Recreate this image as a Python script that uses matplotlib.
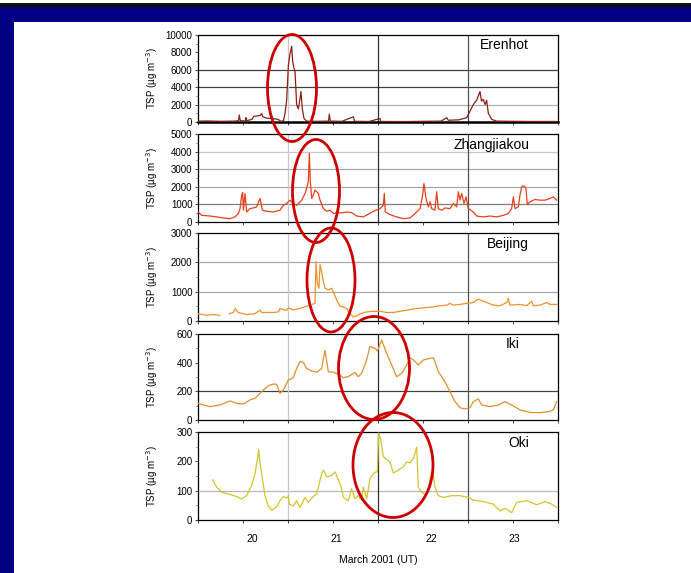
import numpy as np
import matplotlib
matplotlib.use("Agg")
import matplotlib.pyplot as plt
from matplotlib.patches import Ellipse, Rectangle
from matplotlib.ticker import MultipleLocator

plt.rcParams["font.family"] = ["Liberation Sans", "DejaVu Sans"]

NAVY, RING = "#000080", "#cc0000"

# time = day of March 2001 (UT), TSP in ug m-3
erenhot_t = [19.50, 19.60, 19.75, 19.90, 19.95, 19.959, 19.97, 20.03, 20.033, 20.04, 20.10, 20.12,
             20.16, 20.19, 20.207, 20.22, 20.26, 20.33, 20.39, 20.42, 20.45, 20.467, 20.485, 20.504,
             20.522, 20.541, 20.55, 20.559, 20.578, 20.596, 20.615, 20.635, 20.644, 20.659, 20.678,
             20.707, 20.80, 20.95, 20.959, 20.97, 21.10, 21.226, 21.24, 21.40, 21.522, 21.53, 21.80,
             22.00, 22.20, 22.263, 22.28, 22.40, 22.485, 22.52, 22.559, 22.596, 22.633, 22.65,
             22.670, 22.69, 22.707, 22.726, 22.763, 22.819, 23.00, 23.20, 23.50]
erenhot_v = [100, 120, 80, 100, 150, 800, 150, 120, 500, 150, 300, 650,
             700, 750, 980, 600, 450, 400, 300, 80, 150, 1000, 2500, 6500,
             7800, 8700, 7200, 6500, 5800, 2000, 1500, 2800, 3500, 1500, 400,
             100, 80, 100, 900, 100, 80, 600, 80, 60, 400, 60, 50,
             80, 100, 500, 200, 250, 500, 1200, 2000, 2500, 3500, 2400,
             2600, 2000, 2500, 1000, 300, 100, 80, 60, 60]

zhang_t = [19.500, 19.541, 19.633, 19.707, 19.781, 19.856, 19.911, 19.948, 19.967, 19.985, 19.996,
           20.004, 20.022, 20.041, 20.078, 20.115, 20.152, 20.189, 20.215, 20.263, 20.337, 20.411,
           20.448, 20.485, 20.522, 20.559, 20.596, 20.652, 20.689, 20.707, 20.726, 20.737, 20.748,
           20.763, 20.781, 20.800, 20.819, 20.837, 20.856, 20.893, 20.930, 20.967, 21.004, 21.041,
           21.096, 21.152, 21.207, 21.263, 21.337, 21.411, 21.467, 21.522, 21.559, 21.570, 21.581,
           21.633, 21.707, 21.781, 21.856, 21.911, 21.967, 21.996, 22.011, 22.033, 22.059, 22.078,
           22.096, 22.133, 22.152, 22.170, 22.207, 22.244, 22.300, 22.337, 22.374, 22.393, 22.411,
           22.430, 22.456, 22.478, 22.504, 22.559, 22.596, 22.670, 22.744, 22.819, 22.893, 22.948,
           22.985, 23.004, 23.022, 23.059, 23.078, 23.096, 23.122, 23.144, 23.159, 23.189, 23.244,
           23.300, 23.356, 23.411, 23.448, 23.485]
zhang_v = [570, 380, 340, 290, 230, 190, 290, 480, 760, 1530, 1680,
           670, 1620, 570, 760, 800, 860, 1340, 670, 610, 570, 670,
           950, 1050, 1240, 1050, 950, 1240, 1620, 1910, 2290, 3910, 2290,
           1340, 1530, 1810, 1720, 1620, 1240, 760, 610, 670, 480, 530,
           515, 570, 530, 340, 290, 500, 650, 760, 950, 1620, 570,
           420, 290, 190, 230, 480, 760, 1530, 2190, 1340, 860, 1145,
           760, 670, 1720, 760, 670, 800, 760, 1050, 860, 1720, 1240,
           1620, 1050, 1430, 760, 570, 340, 290, 340, 290, 380, 480,
           760, 1430, 760, 860, 1530, 2000, 2060, 1910, 990, 1145, 1280,
           1240, 1240, 1340, 1430, 1240]

beijing_t = [19.504, 19.596, 19.670, 19.744, 19.76, 19.848, 19.893, 19.911, 19.948, 20.041, 20.133,
             20.189, 20.207, 20.337, 20.393, 20.411, 20.485, 20.504, 20.559, 20.633, 20.707, 20.763,
             20.800, 20.811, 20.826, 20.844, 20.856, 20.874, 20.893, 20.911, 20.948, 20.985, 21.004,
             21.041, 21.078, 21.115, 21.152, 21.189, 21.226, 21.263, 21.300, 21.374, 21.448, 21.522,
             21.596, 21.670, 21.744, 21.819, 21.930, 22.041, 22.115, 22.189, 22.263, 22.300, 22.337,
             22.411, 22.485, 22.559, 22.615, 22.633, 22.707, 22.781, 22.856, 22.930, 22.948, 22.967,
             23.078, 23.152, 23.207, 23.226, 23.300, 23.374, 23.411, 23.496]
beijing_v = [250, 195, 220, 195, np.nan, 250, 290, 425, 290, 220, 250,
             370, 290, 290, 310, 425, 360, 450, 380, 430, 505, 565,
             600, 2030, 1290, 1115, 1920, 1690, 1345, 1115, 1060, 1115, 1000,
             710, 505, 480, 425, 250, 140, 170, 250, 310, 330, 330,
             290, 290, 330, 370, 425, 460, 480, 520, 540, 600, 540,
             565, 600, 630, 750, 720, 630, 540, 520, 630, 770, 540,
             565, 520, 680, 520, 540, 630, 565, 565]

iki_t = [19.504, 19.559, 19.633, 19.744, 19.856, 19.930, 20.004, 20.078, 20.133, 20.226, 20.281,
         20.337, 20.374, 20.411, 20.448, 20.504, 20.559, 20.596, 20.633, 20.670, 20.707, 20.763,
         20.819, 20.874, 20.911, 20.948, 21.004, 21.078, 21.115, 21.170, 21.244, 21.281, 21.319,
         21.374, 21.411, 21.467, 21.493, 21.541, 21.596, 21.652, 21.707, 21.763, 21.819, 21.856,
         21.893, 21.948, 22.004, 22.078, 22.115, 22.133, 22.170, 22.244, 22.300, 22.356, 22.411,
         22.467, 22.522, 22.559, 22.615, 22.652, 22.744, 22.837, 22.911, 22.985, 23.078, 23.189,
         23.300, 23.393, 23.448, 23.485]
iki_v = [116, 105, 93, 105, 133, 116, 112, 140, 151, 209, 240,
         251, 249, 186, 209, 279, 295, 360, 407, 402, 360, 342,
         333, 360, 488, 337, 333, 314, 295, 302, 333, 302, 326,
         419, 512, 500, 481, 558, 465, 384, 302, 326, 384, 435,
         419, 384, 419, 430, 435, 407, 337, 267, 198, 128, 86,
         77, 86, 128, 147, 105, 93, 105, 128, 105, 70, 53,
         51, 58, 70, 128]

oki_t = [19.663, 19.707, 19.763, 19.856, 19.930, 19.985, 20.041, 20.096, 20.133, 20.159, 20.174,
         20.189, 20.219, 20.244, 20.281, 20.319, 20.374, 20.411, 20.448, 20.485, 20.504, 20.515,
         20.559, 20.596, 20.633, 20.689, 20.726, 20.781, 20.819, 20.874, 20.893, 20.930, 20.985,
         21.022, 21.041, 21.096, 21.115, 21.170, 21.207, 21.244, 21.281, 21.319, 21.337, 21.374,
         21.411, 21.448, 21.478, 21.493, 21.507, 21.530, 21.559, 21.596, 21.633, 21.670, 21.726,
         21.781, 21.819, 21.856, 21.893, 21.930, 21.948, 21.985, 22.022, 22.059, 22.078, 22.107,
         22.133, 22.170, 22.226, 22.319, 22.411, 22.504, 22.559, 22.670, 22.781, 22.856, 22.911,
         22.985, 23.041, 23.152, 23.263, 23.356, 23.430, 23.485]
oki_v = [137, 112, 95, 87, 80, 72, 83, 118, 158, 204, 241,
         193, 135, 83, 48, 33, 45, 66, 80, 75, 83, 54,
         48, 66, 43, 77, 60, 80, 89, 158, 170, 147, 152,
         164, 152, 106, 77, 66, 106, 72, 83, 66, 112, 72,
         141, 158, 164, 164, 297, 274, 216, 207, 198, 160, 170,
         181, 198, 195, 210, 248, 112, 95, 87, 100, 141, 170,
         112, 83, 77, 83, 83, 77, 68, 63, 54, 31, 40,
         25, 60, 66, 52, 63, 54, 43]

DAY_LABELS = ["20", "21", "22", "23"]
DAY_LABEL_POS = [20.1, 21.04, 22.09, 23.01]

# name, t, v, colour, ymax, major, minor, horizontal grid (value, colour), label x
panels = [
    ("Erenhot", erenhot_t, erenhot_v, "#8a2010", 10000, 2000, 1000,
     [(2000, "#b0b0b0"), (4000, "#404040"), (6000, "#404040")], 0.92),
    ("Zhangjiakou", zhang_t, zhang_v, "#e8401a", 5000, 1000, 500,
     [(1000, "#808080"), (2000, "#a8a8a8"), (3000, "#a8a8a8"), (4000, "#c8c8c8")], 0.92),
    ("Beijing", beijing_t, beijing_v, "#f0922a", 3000, 1000, 500,
     [(1000, "#a8a8a8"), (2000, "#a8a8a8")], 0.92),
    ("Iki", iki_t, iki_v, "#e0902e", 600, 200, 100,
     [(200, "#404040")], 0.895),
    ("Oki", oki_t, oki_v, "#d4c42c", 300, 100, 50,
     [(100, "#b8b8b8")], 0.92),
]
VGRID = [(20.5, "#c8c8c8"), (21.5, "#303030"), (22.5, "#505050")]

W, H = 691, 573
fig = plt.figure(figsize=(W / 100, H / 100), dpi=100)
fig.patch.set_facecolor("white")

# slide frame
fig.patches.append(Rectangle((0, 1 - 7 / H), 1, 4 / H, transform=fig.transFigure, fc="#101010", ec="none"))
fig.patches.append(Rectangle((0, 1 - 22 / H), 1, 15 / H, transform=fig.transFigure, fc=NAVY, ec="none"))
fig.patches.append(Rectangle((0, 0), 14 / W, 1 - 7 / H, transform=fig.transFigure, fc=NAVY, ec="none"))

tops = [35, 134, 233, 334, 432]
bots = [122, 222, 321, 420, 520]
x0, x1 = 198, 558

for i, (name, t, v, c, ymax, maj, mnr, hg, lx) in enumerate(panels):
    ax = fig.add_axes([x0 / W, 1 - bots[i] / H, (x1 - x0) / W, (bots[i] - tops[i]) / H])
    for yv, gc in hg:
        ax.axhline(yv, color=gc, lw=0.9, zorder=1)
    for xv, gc in VGRID:
        ax.axvline(xv, color=gc, lw=0.9, zorder=1)
    ax.plot(t, v, color=c, lw=0.9, zorder=3)
    ax.set_xlim(19.5, 23.5)
    ax.set_ylim(0, ymax)
    ax.yaxis.set_major_locator(MultipleLocator(maj))
    ax.yaxis.set_minor_locator(MultipleLocator(mnr))
    ax.set_xticks(np.arange(19.5, 23.51, 0.5))
    ax.set_xticklabels([])
    ax.tick_params(axis="both", which="major", direction="out", length=2.5, width=0.7,
                   labelsize=7, pad=1.5, color="#444444")
    ax.tick_params(axis="y", which="minor", direction="out", length=1.5, width=0.5, color="#444444")
    ax.set_ylabel("TSP (µg m$^{-3}$)", fontsize=7)
    ax.yaxis.set_label_coords(-0.105, 0.5)
    for s in ax.spines.values():
        s.set_linewidth(0.9)
    if i == 0:
        ax.spines["bottom"].set_linewidth(1.8)
    ax.text(lx, 0.96, name, transform=ax.transAxes, ha="right", va="top", fontsize=10)
    if i == len(panels) - 1:
        ax.set_xticks(DAY_LABEL_POS, DAY_LABELS, minor=True)
        ax.tick_params(axis="x", which="minor", length=0, labelsize=7.5, pad=10)
        ax.set_xlabel("March 2001 (UT)", fontsize=7.5, labelpad=8)

# red rings drawn over the figure
rings = [(292, 88, 49, 107), (316, 191, 47, 103), (331, 280, 48, 104),
         (374, 368, 71, 103), (393, 465, 80, 105)]
for cx, cy, w, h in rings:
    fig.patches.append(Ellipse((cx / W, 1 - cy / H), w / W, h / H, transform=fig.transFigure,
                               fill=False, ec=RING, lw=2.0, zorder=10))

fig.savefig("out.png", dpi=100)
